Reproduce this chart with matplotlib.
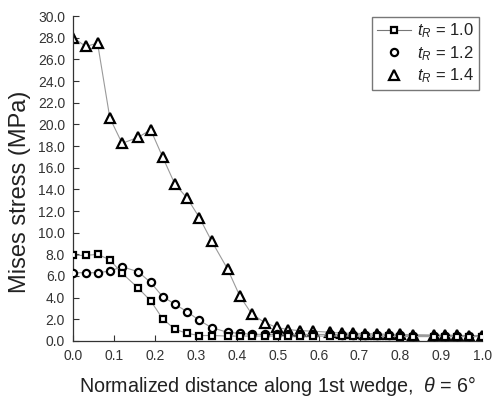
import numpy as np
import matplotlib
matplotlib.use('Agg')
import matplotlib.pyplot as plt
from matplotlib.lines import Line2D

plt.rcParams['font.family'] = ['Liberation Sans', 'DejaVu Sans']
plt.rcParams['mathtext.fontset'] = 'custom'
plt.rcParams['mathtext.it'] = 'Liberation Sans:italic'
plt.rcParams['mathtext.rm'] = 'Liberation Sans'

# normalized position of the nodes along the wedge
dist = [0.0, 0.030, 0.059, 0.089, 0.119, 0.158, 0.189, 0.218, 0.248, 0.278,
        0.308, 0.338, 0.377, 0.407, 0.436, 0.468, 0.497, 0.525, 0.555, 0.586,
        0.627, 0.657, 0.685, 0.714, 0.742, 0.771, 0.800, 0.832, 0.881, 0.910,
        0.939, 0.967, 1.0]

# Mises stress (MPa) for each t_R
stress_10 = [7.9, 7.9, 8.0, 7.5, 6.25, 4.9, 3.7, 2.06, 1.08, 0.7,
             0.5, 0.5, 0.45, 0.45, 0.45, 0.45, 0.45, 0.45, 0.45, 0.45,
             0.45, 0.45, 0.45, 0.42, 0.42, 0.42, 0.4, 0.4, 0.4, 0.4,
             0.4, 0.4, 0.4]
stress_12 = [6.3, 6.3, 6.3, 6.45, 6.85, 6.4, 5.4, 4.1, 3.4, 2.7,
             1.9, 1.23, 0.8, 0.7, 0.62, 0.6, 0.6, 0.6, 0.6, 0.6,
             0.6, 0.58, 0.58, 0.55, 0.55, 0.55, 0.55, 0.5, 0.5, 0.5,
             0.5, 0.5, 0.5]
stress_14 = [28.0, 27.2, 27.5, 20.6, 18.25, 18.8, 19.5, 17.0, 14.5, 13.2,
             11.4, 9.23, 6.65, 4.15, 2.5, 1.7, 1.25, 1.05, 0.95, 0.9,
             0.8, 0.72, 0.7, 0.68, 0.65, 0.62, 0.6, 0.58, 0.55, 0.55,
             0.52, 0.5, 0.5]

labels = [r'$t_{R}$ = 1.0', r'$t_{R}$ = 1.2', r'$t_{R}$ = 1.4']

fig = plt.figure(figsize=(4.93, 4.03), dpi=100)
ax = fig.add_axes([0.149, 0.154, 0.829, 0.806])

mew = 1.6
line_kw = dict(color='#9a9a9a', lw=0.8, markerfacecolor='white',
               markeredgecolor='black', markeredgewidth=mew)
ax.plot(dist, stress_14, marker='^', ms=7.5, zorder=2, **line_kw)
ax.plot(dist, stress_12, marker='o', ms=5.2, zorder=3, **line_kw)
ax.plot(dist, stress_10, marker='s', ms=4.8, zorder=4, **line_kw)

ax.set_xlim(0, 1.0)
ax.set_ylim(0, 30)
ax.set_xticks(np.arange(0, 1.01, 0.1))
ax.set_xticklabels(['%.1f' % v for v in np.arange(0, 1.01, 0.1)])
ax.set_yticks(np.arange(0, 30.1, 2))
ax.set_yticklabels(['%.1f' % v for v in np.arange(0, 30.1, 2)])
ax.tick_params(direction='in', length=4, width=0.8, labelsize=10,
               labelcolor='#333333', color='#333333', pad=6)
for s in ['top', 'right']:
    ax.spines[s].set_visible(False)
for s in ['left', 'bottom']:
    ax.spines[s].set_color('#333333')
    ax.spines[s].set_linewidth(0.9)

ax.set_xlabel(r'Normalized distance along 1st wedge,  $\theta$ = 6°',
              fontsize=14.2, color='#222222', labelpad=8)
ax.set_ylabel('Mises stress (MPa)', fontsize=17, color='#222222')
ax.yaxis.set_label_coords(-0.105, 0.46)

handles = [
    Line2D([], [], color='#777777', lw=0.8, marker='s', ms=4.8,
           markerfacecolor='white', markeredgecolor='black', markeredgewidth=mew),
    Line2D([], [], lw=0, marker='o', ms=5.2,
           markerfacecolor='white', markeredgecolor='black', markeredgewidth=mew),
    Line2D([], [], lw=0, marker='^', ms=7.5,
           markerfacecolor='white', markeredgecolor='black', markeredgewidth=mew),
]
leg = ax.legend(handles, labels, loc='upper right', bbox_to_anchor=(0.993, 0.998),
                fontsize=12, frameon=True, fancybox=False, edgecolor='#555555',
                handlelength=2.0, handletextpad=0.4, labelspacing=0.22,
                borderpad=0.3, borderaxespad=0.0)
leg.get_frame().set_linewidth(1.0)
for t in leg.get_texts():
    t.set_color('#222222')

fig.savefig('out.png', dpi=100)
